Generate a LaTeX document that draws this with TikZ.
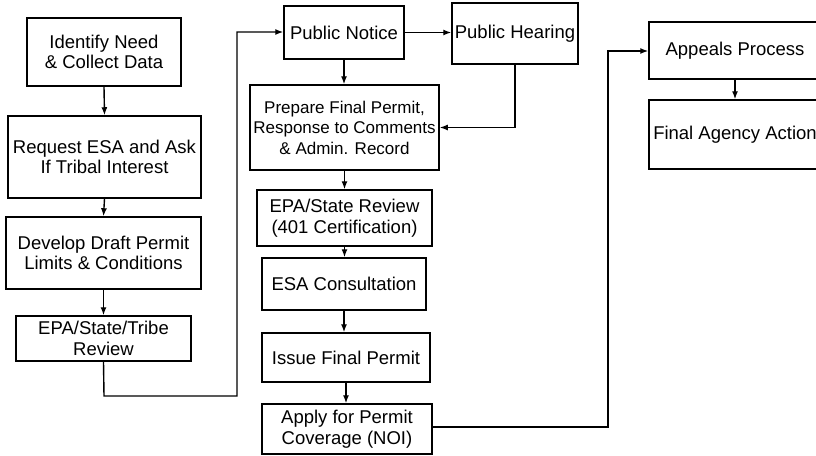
\documentclass[tikz,border=0pt]{standalone}
\usepackage{fontspec}
\setmainfont{Liberation Sans}
\usetikzlibrary{arrows.meta}
\begin{document}
\begin{tikzpicture}[x=1pt,y=-1pt,
  box/.style={draw=black,line width=1.5pt,fill=white,inner sep=0pt,align=center,
    font=\fontsize{18.5}{20.5}\selectfont},
  arr/.style={line width=1.4pt,-{Latex[length=8pt,width=6pt]}},
  ]
\useasboundingbox (0,0) rectangle (816,455);
\begin{scope}
\clip (0,0) rectangle (816,455);
\node[box,minimum width=154pt,minimum height=68pt] (idn) at (104,52) {Identify Need\\\& Collect Data};
\node[box,minimum width=193pt,minimum height=82pt] (req) at (104.5,157) {Request ESA and Ask\\If Tribal Interest};
\node[box,minimum width=195pt,minimum height=72pt] (dev) at (103.5,253) {Develop Draft Permit\\Limits \& Conditions};
\node[box,minimum width=175pt,minimum height=45pt] (tri) at (103.5,338.5) {EPA/State/Tribe\\Review};
\node[box,minimum width=120pt,minimum height=53pt] (pn) at (344,32.5) {Public Notice};
\node[box,minimum width=126pt,minimum height=61pt] (ph) at (515,33.5) {Public Hearing};
\node[box,minimum width=189pt,minimum height=85pt,font=\fontsize{17}{20.5}\selectfont] (prep) at (344.5,127.5) {Prepare Final Permit,\\Response to Comments\\\& Admin. Record};
\node[box,minimum width=175pt,minimum height=56pt] (epa) at (344.5,218) {EPA/State Review\\(401 Certification)};
\node[box,minimum width=164pt,minimum height=52pt] (esa) at (344,284) {ESA Consultation};
\node[box,minimum width=168pt,minimum height=49pt] (iss) at (346,357.5) {Issue Final Permit};
\node[box,minimum width=170pt,minimum height=50pt] (app) at (347,429) {Apply for Permit\\Coverage (NOI)};
\node[box,minimum width=172pt,minimum height=57pt] (apl) at (735,50.5) {Appeals Process};
\node[box,minimum width=172pt,minimum height=69pt] (fin) at (735,134.5) {Final Agency Action};

\coordinate (c1) at (104,396);
\coordinate (c2) at (237,396);
\coordinate (c3) at (237,32);
\coordinate (d1) at (608,427);
\coordinate (d2) at (608,51);

\draw[arr] (idn.south) -- (req.north);
\draw[arr] (req.south) -- (dev.north);
\draw[arr] (dev.south) -- (tri.north);
\draw[arr] (tri.south) -- (c1) -- (c2) -- (c3) -- (pn.west |- c3);
\draw[arr] (pn.east) -- (pn.east -| ph.west);
\draw[arr] (pn.south) -- (pn.south |- prep.north);
\draw[arr] (ph.south) |- (prep.east);
\draw[arr] (prep.south) -- (prep.south |- epa.north);
\draw[arr] (epa.south) -- (epa.south |- esa.north);
\draw[arr] (esa.south) -- (esa.south |- iss.north);
\draw[arr] (iss.south) -- (iss.south |- app.north);
\draw[arr] (app.east |- d1) -- (d1) -- (d2) -- (apl.west |- d2);
\draw[arr] (apl.south) -- (fin.north);
\end{scope}
\end{tikzpicture}
\end{document}
